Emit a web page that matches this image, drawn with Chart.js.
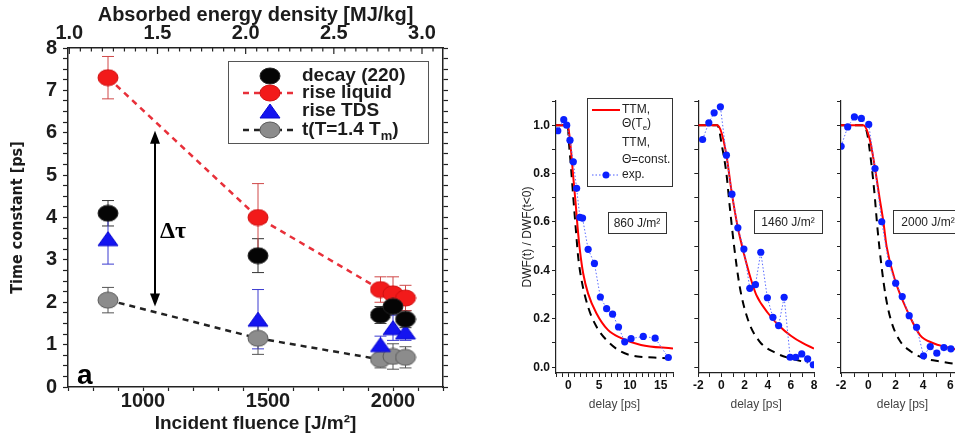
<!DOCTYPE html>
<html lang="en">
<head>
<meta charset="UTF-8">
<title>Time constants and DWF transients</title>
<script src="https://cdn.jsdelivr.net/npm/chart.js"></script>
<style>
  html, body { margin: 0; padding: 0; background: #fff; overflow: hidden; width: 955px; height: 436px; position: relative; }
  canvas { position: absolute; }
</style>
</head>
<body>
<canvas id="fluenceChart" width="460" height="436" style="left:0px;top:0px"></canvas>
<canvas id="dwf860" width="180" height="340" style="left:500px;top:80px"></canvas>
<canvas id="dwf1460" width="145" height="340" style="left:680px;top:80px"></canvas>
<canvas id="dwf2000" width="150" height="340" style="left:820px;top:80px"></canvas>
<script>
// ---- panel a: time constants vs. incident fluence ----
const fluence = [860, 1460, 1950, 2000, 2050];
const decay220 = [4.1, 3.1, 1.7, 1.9, 1.6];
const decay220Err = [0.3, 0.4, 0.2, 0.2, 0.2];
const riseLiquid = [7.3, 4.0, 2.3, 2.2, 2.1];
const riseLiquidErr = [0.5, 0.8, 0.3, 0.4, 0.3];
const riseTDS = [3.5, 1.6, 1.0, 1.4, 1.3];
const riseTDSErr = [0.6, 0.7, 0.2, 0.3, 0.2];
const tMelt = [2.05, 1.15, 0.65, 0.72, 0.7];
const tMeltErr = [0.3, 0.38, 0.2, 0.3, 0.25];
const fluenceTicks = [1000, 1500, 2000];
const energyTicks = [1.0, 1.5, 2.0, 2.5, 3.0];
const timeTicks = [0, 1, 2, 3, 4, 5, 6, 7, 8];
const mjPerJ = 3.0 / 2116; // absorbed energy density per incident fluence

// ---- DWF(t)/DWF(t<0) transients, [delay ps, value] ----
const ttmTe860 = [[-2,1],[-0.1,1],[0.43,0.897],[0.8,0.787],[1.19,0.677],[1.5,0.58],[1.88,0.484],[2.41,0.388],[3.2,0.305],[4.56,0.223],[6.43,0.154],[8.58,0.12],[11.8,0.092],[17,0.077]];
const ttmConst860 = [[-2,1],[-0.1,1],[0.11,0.925],[0.43,0.828],[0.8,0.704],[1.19,0.58],[1.6,0.456],[2.15,0.36],[3.2,0.25],[4.56,0.168],[6.43,0.106],[8.58,0.064],[11.25,0.044],[13.9,0.04],[17,0.036]];
const exp860 = [[-1.71,0.977],[-0.74,1.023],[-0.26,1.0],[0.27,0.938],[0.81,0.849],[1.35,0.739],[1.88,0.619],[2.31,0.616],[3.22,0.487],[4.24,0.429],[5.2,0.29],[6.22,0.242],[7.19,0.219],[8.15,0.166],[9.16,0.105],[10.19,0.118],[12.17,0.127],[14.1,0.12],[16.24,0.04]];
const ttmTe1460 = [[-2,1],[-0.35,1],[0,0.97],[0.43,0.876],[0.91,0.715],[1.42,0.576],[1.94,0.47],[2.57,0.36],[3,0.3],[4,0.225],[5,0.17],[6,0.13],[7,0.1],[8,0.077]];
const ttmConst1460 = [[-2,1],[-0.35,1],[0.06,0.91],[0.43,0.8],[0.72,0.663],[1.1,0.498],[1.58,0.333],[2.3,0.195],[3.3,0.106],[4.73,0.058],[5.88,0.037],[7.45,0.019]];
const exp1460 = [[-1.63,0.941],[-1.09,1.01],[-0.63,1.051],[-0.09,1.076],[0.43,0.876],[0.91,0.715],[1.42,0.576],[1.94,0.488],[2.45,0.326],[2.94,0.341],[3.4,0.475],[3.97,0.287],[4.45,0.206],[4.94,0.172],[5.42,0.289],[5.94,0.041],[6.42,0.041],[6.94,0.055],[7.45,0.034],[7.94,0.01]];
const ttmTe2000 = [[-2,1],[-0.36,1],[0.12,0.938],[0.49,0.821],[0.81,0.704],[1.1,0.601],[1.34,0.498],[1.95,0.36],[2.93,0.223],[3.78,0.133],[4.76,0.099],[5.74,0.083],[6.35,0.074],[7,0.068]];
const ttmConst2000 = [[-2,1],[-0.4,1],[-0.1,0.97],[0.19,0.856],[0.43,0.73],[0.68,0.567],[0.97,0.415],[1.28,0.29],[1.65,0.195],[2.26,0.113],[3.11,0.065],[4.08,0.037],[5.3,0.023],[6.27,0.014],[7,0.01]];
const exp2000 = [[-1.99,0.913],[-1.51,0.993],[-1.02,1.034],[-0.51,1.028],[0.03,1.003],[0.49,0.821],[0.98,0.601],[1.49,0.429],[2.0,0.347],[2.48,0.292],[2.99,0.213],[3.53,0.165],[4.04,0.047],[4.53,0.085],[5.01,0.058],[5.53,0.081],[6.04,0.076]];

const SANS = '"Liberation Sans", Arial, sans-serif';
const NARROW = '"Liberation Sans Narrow", "DejaVu Sans Condensed", "Liberation Sans", sans-serif';
const ink = '#1c1c1c';

function marker(shape, fill, edge) {
  const c = document.createElement('canvas');
  c.width = 22; c.height = 18;
  const g = c.getContext('2d');
  g.fillStyle = fill; g.strokeStyle = edge; g.lineWidth = 1;
  g.beginPath();
  if (shape === 'ellipse') g.ellipse(11, 9, 10, 8, 0, 0, Math.PI * 2);
  else { g.moveTo(11, 2); g.lineTo(21, 16); g.lineTo(1, 16); g.closePath(); }
  g.fill(); g.stroke();
  return c;
}
const blackDot = marker('ellipse', '#050505', '#222');
const redDot = marker('ellipse', '#f21a1a', '#d01010');
const blueTri = marker('tri', '#1414f0', '#0a0ad0');
const grayDot = marker('ellipse', '#8c8c8c', '#5a5a5a');

const pts = ys => fluence.map((x, i) => ({ x, y: ys[i] }));
const near = (list, v) => list.some(t => Math.abs(t - v) < 1e-6);

const errorBars = {
  id: 'errorBars',
  beforeDatasetsDraw(chart) {
    const { ctx, scales: { x, y } } = chart;
    chart.data.datasets.forEach(ds => {
      if (!ds.errors) return;
      ctx.save();
      ctx.strokeStyle = ds.errorColor;
      ctx.lineWidth = 1;
      ds.data.forEach((p, i) => {
        const px = x.getPixelForValue(p.x);
        const top = y.getPixelForValue(p.y + ds.errors[i]);
        const bot = y.getPixelForValue(p.y - ds.errors[i]);
        ctx.beginPath();
        ctx.moveTo(px, top); ctx.lineTo(px, bot);
        ctx.moveTo(px - 6, top); ctx.lineTo(px + 6, top);
        ctx.moveTo(px - 6, bot); ctx.lineTo(px + 6, bot);
        ctx.stroke();
      });
      ctx.restore();
    });
  }
};

// top axis ticks point into the plot
const innerTopTicks = {
  id: 'innerTopTicks',
  afterDraw(chart) {
    const s = chart.scales.xTop, ctx = chart.ctx;
    ctx.save();
    ctx.strokeStyle = '#222'; ctx.lineWidth = 1.2;
    s.ticks.forEach(t => {
      const px = s.getPixelForValue(t.value);
      const len = near(energyTicks, t.value) ? 6 : 3.5;
      ctx.beginPath(); ctx.moveTo(px, s.bottom); ctx.lineTo(px, s.bottom + len); ctx.stroke();
    });
    ctx.restore();
  }
};

const panelANotes = {
  id: 'panelANotes',
  afterDraw(chart) {
    const { ctx, scales: { x, y } } = chart;
    ctx.save();
    // delta tau arrow
    const ax = x.getPixelForValue(1048), at = y.getPixelForValue(6.05), ab = y.getPixelForValue(1.9);
    ctx.strokeStyle = '#000'; ctx.fillStyle = '#000'; ctx.lineWidth = 2;
    ctx.beginPath(); ctx.moveTo(ax, at + 8); ctx.lineTo(ax, ab - 8); ctx.stroke();
    ctx.beginPath(); ctx.moveTo(ax, at); ctx.lineTo(ax - 5, at + 13); ctx.lineTo(ax + 5, at + 13); ctx.closePath(); ctx.fill();
    ctx.beginPath(); ctx.moveTo(ax, ab); ctx.lineTo(ax - 5, ab - 13); ctx.lineTo(ax + 5, ab - 13); ctx.closePath(); ctx.fill();
    ctx.font = 'bold 24px "Liberation Serif", "DejaVu Serif", serif';
    ctx.textBaseline = 'middle';
    ctx.fillText('\u0394\u03c4', 160, 232);
    ctx.font = 'bold 28px ' + SANS;
    ctx.fillText('a', 77, 376);

    // legend
    ctx.fillStyle = '#fff'; ctx.strokeStyle = '#555'; ctx.lineWidth = 1;
    ctx.fillRect(228.5, 61.5, 200, 82); ctx.strokeRect(228.5, 61.5, 200, 82);
    const rows = [
      { y: 76, img: blackDot, line: null, text: 'decay (220)' },
      { y: 93, img: redDot, line: '#e8303a', text: 'rise liquid' },
      { y: 111, img: blueTri, line: null, text: 'rise TDS' },
      { y: 130, img: grayDot, line: '#222', text: 't(T=1.4 T', sub: 'm', tail: ')' }
    ];
    rows.forEach(r => {
      if (r.line) {
        ctx.strokeStyle = r.line; ctx.lineWidth = 2.5; ctx.setLineDash([6, 5]);
        ctx.beginPath(); ctx.moveTo(243, r.y); ctx.lineTo(298, r.y); ctx.stroke();
        ctx.setLineDash([]);
      }
      ctx.drawImage(r.img, 270 - 11, r.y - 9);
      ctx.fillStyle = ink; ctx.font = 'bold 19px ' + SANS; ctx.textBaseline = 'middle';
      ctx.fillText(r.text, 302, r.y);
      if (r.sub) {
        let w = ctx.measureText(r.text).width;
        ctx.font = 'bold 13px ' + SANS;
        ctx.fillText(r.sub, 302 + w, r.y + 6);
        w += ctx.measureText(r.sub).width;
        ctx.font = 'bold 19px ' + SANS;
        ctx.fillText(r.tail, 302 + w, r.y);
      }
    });
    ctx.restore();
  }
};

const tickFont = { family: SANS, size: 20, weight: 'bold' };
const frame = { display: true, color: '#222', width: 1.5 };
const tickGrid = { drawOnChartArea: false, tickLength: 5, tickColor: '#222', tickWidth: 1.2 };

new Chart(document.getElementById('fluenceChart'), {
  type: 'scatter',
  data: {
    datasets: [
      { label: 'decay (220)', data: pts(decay220), errors: decay220Err, errorColor: '#333',
        pointStyle: blackDot, showLine: false },
      { label: 'rise TDS', data: pts(riseTDS), errors: riseTDSErr, errorColor: '#3b3bd0',
        pointStyle: blueTri, showLine: false },
      { label: 'rise liquid', data: pts(riseLiquid), errors: riseLiquidErr, errorColor: '#d04848',
        pointStyle: redDot, showLine: true, borderColor: '#e8303a', borderWidth: 2.5, borderDash: [6, 5] },
      { label: 't(T=1.4 Tm)', data: pts(tMelt), errors: tMeltErr, errorColor: '#555',
        pointStyle: grayDot, showLine: true, borderColor: '#222', borderWidth: 2.5, borderDash: [6, 5] }
    ]
  },
  options: {
    responsive: false, animation: false,
    layout: { padding: 0 },
    plugins: { legend: { display: false }, tooltip: { enabled: false } },
    scales: {
      x: {
        type: 'linear', position: 'bottom', min: 700, max: 2200,
        afterFit: s => { s.height = 49; },
        border: frame, grid: { ...tickGrid, tickLength: 4 },
        ticks: { stepSize: 100, autoSkip: false, maxRotation: 0, includeBounds: false, padding: -2,
                 font: tickFont, color: ink, callback: v => near(fluenceTicks, v) ? String(v) : '' },
        title: { display: true, text: 'Incident fluence [J/m\u00b2]', color: ink,
                 font: { family: SANS, size: 19, weight: 'bold' }, padding: { top: 0, bottom: 1 } }
      },
      xTop: {
        type: 'linear', position: 'top', min: 700 * mjPerJ, max: 2200 * mjPerJ,
        afterFit: s => { s.height = 48; },
        border: frame, grid: { drawOnChartArea: false, drawTicks: false },
        ticks: { stepSize: 0.0625, autoSkip: false, maxRotation: 0, includeBounds: false, padding: 3,
                 font: tickFont, color: ink, callback: v => near(energyTicks, v) ? v.toFixed(1) : '' },
        title: { display: true, text: 'Absorbed energy density [MJ/kg]', color: ink,
                 font: { family: SANS, size: 20, weight: 'bold' }, padding: { top: 3, bottom: 0 } }
      },
      y: {
        min: 0, max: 8,
        afterFit: s => { s.width = 68; },
        border: frame, grid: tickGrid,
        ticks: { stepSize: 0.25, autoSkip: false, includeBounds: false, padding: 6,
                 font: tickFont, color: ink, callback: v => near(timeTicks, v) ? String(v) : '' },
        title: { display: true, text: 'Time constant [ps]', color: ink,
                 font: { family: NARROW, size: 16, weight: 'bold' }, padding: { top: 8, bottom: 0 } }
      },
      yRight: {
        position: 'right', min: 0, max: 8,
        afterFit: s => { s.width = 17; },
        border: frame, grid: tickGrid,
        ticks: { stepSize: 0.25, autoSkip: false, includeBounds: false, callback: () => '' }
      }
    }
  },
  plugins: [errorBars, innerTopTicks, panelANotes]
});

// ---- DWF panels ----
const xy = pairs => pairs.map(([x, y]) => ({ x, y }));
const dwfTicks = [0, 0.2, 0.4, 0.6, 0.8, 1.0];
const smallFont = { family: SANS, size: 12, weight: 'bold' };

function fluenceBox(text, x0, y0, w, h) {
  return {
    id: 'box' + text.replace(/\W/g, ''),
    afterDraw(chart) {
      const ctx = chart.ctx;
      ctx.save();
      ctx.fillStyle = '#fff'; ctx.strokeStyle = '#333'; ctx.lineWidth = 1;
      ctx.fillRect(x0 + 0.5, y0 + 0.5, w, h); ctx.strokeRect(x0 + 0.5, y0 + 0.5, w, h);
      ctx.fillStyle = '#222'; ctx.font = '12px ' + SANS; ctx.textBaseline = 'middle'; ctx.textAlign = 'center';
      ctx.fillText(text, x0 + w / 2, y0 + h / 2 + 1);
      ctx.restore();
    }
  };
}

const dwfLegend = {
  id: 'dwfLegend',
  afterDraw(chart) {
    const ctx = chart.ctx;
    ctx.save();
    ctx.fillStyle = '#fff'; ctx.strokeStyle = '#333'; ctx.lineWidth = 1;
    ctx.fillRect(87.5, 18.5, 85, 88); ctx.strokeRect(87.5, 18.5, 85, 88);
    ctx.strokeStyle = '#ff0000'; ctx.lineWidth = 2;
    ctx.beginPath(); ctx.moveTo(92, 30); ctx.lineTo(120, 30); ctx.stroke();
    ctx.strokeStyle = '#4a5cff'; ctx.lineWidth = 1; ctx.setLineDash([1.5, 2]);
    ctx.beginPath(); ctx.moveTo(92, 95); ctx.lineTo(120, 95); ctx.stroke();
    ctx.setLineDash([]);
    ctx.fillStyle = '#0a1fff';
    ctx.beginPath(); ctx.arc(106, 95, 3.5, 0, Math.PI * 2); ctx.fill();
    ctx.fillStyle = '#222'; ctx.font = '12px ' + SANS; ctx.textBaseline = 'middle';
    ctx.fillText('TTM,', 122, 30);
    ctx.fillText('\u0398(T', 122, 44);
    let w = ctx.measureText('\u0398(T').width;
    ctx.font = '8px ' + SANS; ctx.fillText('e', 122 + w, 48);
    w += ctx.measureText('e').width;
    ctx.font = '12px ' + SANS; ctx.fillText(')', 122 + w, 44);
    ctx.fillText('TTM,', 122, 63);
    ctx.fillText('\u0398=const.', 122, 80);
    ctx.fillText('exp.', 122, 95);
    ctx.restore();
  }
};

function dwfPanel(id, xMax, labelEvery, yWidth, padRight, te, cst, exp, showY, extra) {
  const lbl = v => Math.abs(v / labelEvery - Math.round(v / labelEvery)) < 1e-6;
  new Chart(document.getElementById(id), {
    type: 'scatter',
    data: {
      datasets: [
        { label: 'exp.', data: xy(exp), showLine: true, borderColor: '#5a6cff', borderWidth: 1,
          borderDash: [1.5, 2], pointRadius: 3.6, pointBackgroundColor: '#0a1fff', pointBorderWidth: 0 },
        { label: 'TTM, \u0398(Te)', data: xy(te), showLine: true, borderColor: '#ff0000', borderWidth: 2,
          pointRadius: 0, cubicInterpolationMode: 'monotone' },
        { label: 'TTM, \u0398=const.', data: xy(cst), showLine: true, borderColor: '#000', borderWidth: 2,
          borderDash: [8, 6], pointRadius: 0, cubicInterpolationMode: 'monotone' }
      ]
    },
    options: {
      responsive: false, animation: false,
      layout: { padding: { top: 21, right: padRight, left: 0, bottom: 0 } },
      plugins: { legend: { display: false }, tooltip: { enabled: false } },
      scales: {
        x: {
          type: 'linear', min: -2, max: xMax,
          afterFit: s => { s.height = 47; },
          border: { display: true, color: '#222', width: 1.2 },
          grid: { drawOnChartArea: false, tickLength: 4, tickColor: '#222' },
          ticks: { stepSize: 1, autoSkip: false, maxRotation: 0, includeBounds: false, padding: 1,
                   font: smallFont, color: '#111', callback: v => lbl(v) ? String(v) : '' },
          title: { display: true, text: 'delay [ps]', color: '#444',
                   font: { family: SANS, size: 12 }, padding: { top: 0, bottom: 8 } }
        },
        y: {
          min: -0.024, max: 1.1,
          afterFit: s => { s.width = yWidth; },
          border: { display: true, color: '#222', width: 1.2 },
          grid: { drawOnChartArea: false, tickLength: 4, tickColor: '#222' },
          ticks: { stepSize: 0.1, autoSkip: false, includeBounds: false, padding: 2,
                   font: smallFont, color: '#111',
                   callback: v => showY && near(dwfTicks, v) ? v.toFixed(1) : '' },
          title: { display: showY, text: 'DWF(t) / DWF(t<0)', color: '#222',
                   font: { family: SANS, size: 12 }, padding: { top: 20, bottom: 0 } }
        }
      }
    },
    plugins: extra
  });
}

dwfPanel('dwf860', 17, 5, 56, 7, ttmTe860, ttmConst860, exp860, true,
  [dwfLegend, fluenceBox('860 J/m\u00b2', 108, 132, 58, 21)]);
dwfPanel('dwf1460', 8, 2, 18.3, 11, ttmTe1460, ttmConst1460, exp1460, false,
  [fluenceBox('1460 J/m\u00b2', 74, 130, 68, 23)]);
dwfPanel('dwf2000', 7, 2, 21, 6, ttmTe2000, ttmConst2000, exp2000, false,
  [fluenceBox('2000 J/m\u00b2', 73, 130, 70, 23)]);
</script>
</body>
</html>
